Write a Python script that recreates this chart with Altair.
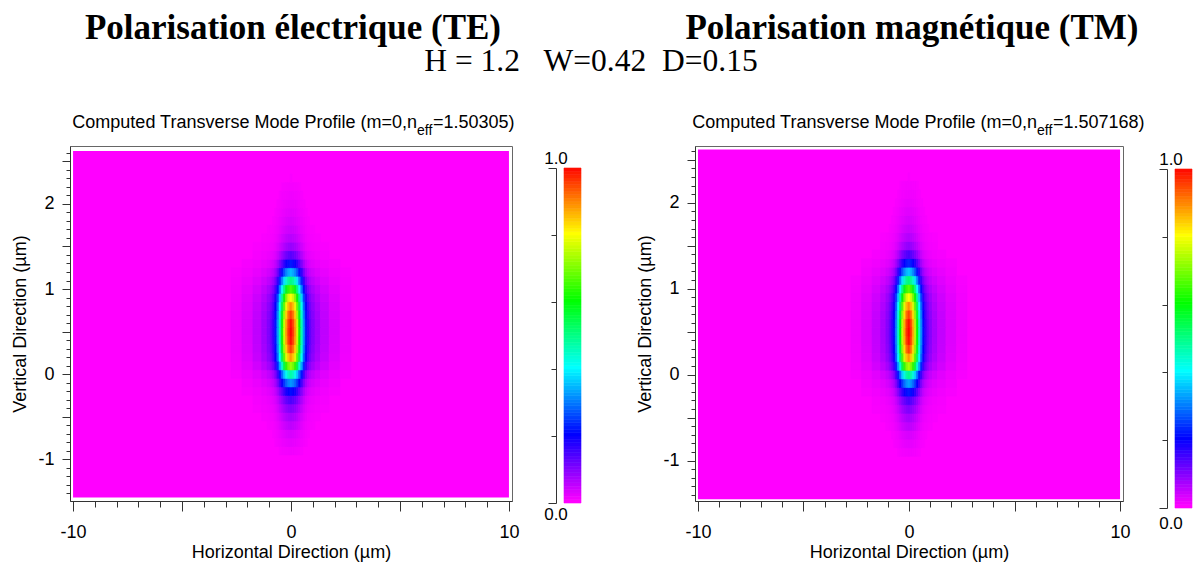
import altair as alt
import pandas as pd

# ---------------- texts ----------------
header_left = "Polarisation électrique (TE)"
header_right = "Polarisation magnétique (TM)"
header_params = "H = 1.2\u00a0\u00a0\u00a0W=0.42\u00a0\u00a0D=0.15"
sub_main = "Computed Transverse Mode Profile (m=0,n"
sub_index = "eff"
neff_te = "=1.50305)"
neff_tm = "=1.507168)"
x_title = "Horizontal Direction (µm)"
y_title = "Vertical Direction (µm)"

# ---------------- axes ----------------
x_ticks = [-10, -9, -8, -7, -6, -5, -4, -3, -2, -1, 0, 1, 2, 3, 4, 5, 6, 7, 8, 9, 10]
x_labelled = [-10, 0, 10]
y_ticks = [round(-1.4 + 0.1 * i, 1) for i in range(41)]
y_labelled = [-1, 0, 1, 2]
cb_ticks = [0.0, 0.1, 0.2, 0.3, 0.4, 0.5, 0.6, 0.7, 0.8, 0.9, 1.0]
cb_labels = ["0.0", "1.0"]

# ---------------- data extents (µm) ----------------
x_extent = [-10, 10]
te_y_extent = [-1.45, 2.62]
tm_y_extent = [-1.45, 2.62]
te_y_domain = [-1.49, 2.68]
tm_y_domain = [-1.47, 2.66]
x_domain = [-10.14, 10.14]

# ---------------- mode profiles ----------------
prof_y = [-1.0, -0.9, -0.8, -0.7, -0.6, -0.5, -0.4, -0.3, -0.2, -0.1, 0.0, 0.1, 0.2,
          0.3, 0.4, 0.5, 0.6, 0.7, 0.8, 0.9, 1.0, 1.1, 1.2, 1.3, 1.4, 1.5, 1.6, 1.7,
          1.8, 1.9, 2.0, 2.1, 2.2, 2.3, 2.4]
te_vertical = [0.0, 0.01, 0.02, 0.03, 0.05, 0.07, 0.10, 0.14, 0.21, 0.32, 0.47, 0.72, 0.88,
               0.95, 0.99, 1.00, 0.99, 0.95, 0.89, 0.80, 0.66, 0.50, 0.35, 0.22, 0.13, 0.08,
               0.055, 0.04, 0.03, 0.022, 0.016, 0.011, 0.007, 0.004, 0.0]
tm_vertical = [0.0, 0.01, 0.02, 0.03, 0.05, 0.07, 0.10, 0.14, 0.22, 0.33, 0.49, 0.73, 0.88,
               0.95, 0.99, 1.00, 0.99, 0.95, 0.89, 0.80, 0.67, 0.51, 0.36, 0.23, 0.14, 0.085,
               0.058, 0.042, 0.031, 0.023, 0.016, 0.011, 0.007, 0.004, 0.0]
prof_x = [0.0, 0.1, 0.2, 0.3, 0.4, 0.5, 0.6, 0.7, 0.8, 0.9, 1.0, 1.2, 1.5, 2.0, 2.5, 3.0]
te_horizontal = [1.00, 0.96, 0.88, 0.76, 0.61, 0.46, 0.32, 0.22, 0.16, 0.125, 0.10, 0.075,
                 0.05, 0.028, 0.012, 0.0]
tm_horizontal = [1.00, 0.96, 0.87, 0.75, 0.60, 0.45, 0.31, 0.21, 0.155, 0.12, 0.095, 0.07,
                 0.047, 0.026, 0.011, 0.0]

# ---------------- colour map ----------------
c_stops = [0.0, 0.2, 0.4, 0.6, 0.8, 1.0]
c_colors = ["#ff00ff", "#0000ff", "#00ffff", "#00ff00", "#ffff00", "#ff0000"]
cscale = alt.Scale(domain=c_stops, range=c_colors, interpolate="rgb", clamp=True)

SANS = "Liberation Sans"
SERIF = "Liberation Serif"


def cell_edges(c):
    out = []
    n = len(c)
    for i in range(n):
        lo = c[i] - (c[1] - c[0]) / 2 if i == 0 else (c[i - 1] + c[i]) / 2
        hi = c[i] + (c[-1] - c[-2]) / 2 if i == n - 1 else (c[i] + c[i + 1]) / 2
        out.append((lo, hi))
    return out


def build_cells(vert, horiz):
    xc = [-v for v in prof_x[::-1][:-1]] + prof_x
    hv = horiz[::-1][:-1] + horiz
    rows = []
    for (ylo, yhi), vv in zip(cell_edges(prof_y), vert):
        for (xlo, xhi), hh in zip(cell_edges(xc), hv):
            val = vv * hh
            if val >= 0.004:
                rows.append({"x0": xlo, "x1": xhi, "y0": ylo, "y1": yhi, "v": val})
    return pd.DataFrame(rows)


def text_layer(txt, x, y, size, font=SANS, weight="normal", align="left", baseline="alphabetic"):
    return alt.Chart(pd.DataFrame({"t": [txt]})).mark_text(
        font=font, fontSize=size, fontWeight=weight, align=align, baseline=baseline, color="#000"
    ).encode(text="t:N", x=alt.value(x), y=alt.value(y))


def heatmap(vert, horiz, y_ext, y_dom, width, height, neff, sub_x, headers):
    xsc = alt.Scale(domain=x_domain, nice=False, zero=False)
    ysc = alt.Scale(domain=y_dom, nice=False, zero=False)
    xaxis = alt.Axis(
        values=x_ticks, title=x_title, grid=False,
        tickSize={"condition": {"test": "abs(datum.value) % 5 === 0", "value": 10}, "value": 6},
        labelExpr="indexof(%s, datum.value) >= 0 ? toString(datum.value) : ''" % str(x_labelled),
        labelPadding=12, labelFlush=False, labelOverlap=False, titlePadding=2,
    )
    yaxis = alt.Axis(
        values=y_ticks, title=y_title, grid=False,
        tickSize={"condition": {"test": "abs(datum.value*2 - round(datum.value*2)) < 0.001",
                                "value": 8}, "value": 4},
        labelExpr="indexof(%s, round(datum.value*10)/10) >= 0 ? toString(round(datum.value)) : ''"
        % str(y_labelled),
        labelPadding=8, labelOverlap=False, titlePadding=8,
    )
    bg_df = pd.DataFrame({"x0": [x_extent[0]], "x1": [x_extent[1]],
                          "y0": [y_ext[0]], "y1": [y_ext[1]], "v": [0.0]})
    bg = alt.Chart(bg_df).mark_rect().encode(
        x=alt.X("x0:Q", scale=xsc, axis=xaxis), x2="x1",
        y=alt.Y("y0:Q", scale=ysc, axis=yaxis), y2="y1",
        color=alt.Color("v:Q", scale=cscale, legend=None),
    )
    cells = alt.Chart(build_cells(vert, horiz)).mark_rect(strokeWidth=0.6).encode(
        x=alt.X("x0:Q", scale=xsc, axis=xaxis), x2="x1",
        y=alt.Y("y0:Q", scale=ysc, axis=yaxis), y2="y1",
        color=alt.Color("v:Q", scale=cscale, legend=None),
        stroke=alt.Stroke("v:Q", scale=cscale, legend=None),
    )
    layers = [bg, cells,
              text_layer(sub_main, sub_x, -18, 18, align="right"),
              text_layer(sub_index, sub_x, -11, 14),
              text_layer(neff, sub_x + 16, -18, 18)]
    for (t, x, y, size, font, weight) in headers:
        layers.append(text_layer(t, x, y, size, font=font, weight=weight, align="center"))
    return alt.layer(*layers).properties(width=width, height=height)


def colorbar(width, height, top, label_x, zero_dy):
    lv = [i / 100 for i in range(100)]
    df = pd.DataFrame({"v": lv, "v2": [l + 0.01 for l in lv]})
    ysc = alt.Scale(domain=[0, 1], range=[height, top], nice=False, zero=False)
    yaxis = alt.Axis(
        values=cb_ticks, title=None, labels=False, grid=False, orient="left",
        tickSize={"condition": {"test": "abs(datum.value - 0.5) < 0.01 || datum.value < 0.01 || datum.value > 0.99",
                                "value": 8}, "value": 5},
    )
    bar = alt.Chart(df).mark_rect(strokeWidth=0.6).encode(
        y=alt.Y("v:Q", scale=ysc, axis=yaxis), y2="v2",
        x=alt.value(8), x2=alt.value(25),
        color=alt.Color("v:Q", scale=cscale, legend=None),
        stroke=alt.Stroke("v:Q", scale=cscale, legend=None),
    )
    top_lab = alt.Chart(pd.DataFrame({"v": [1.0], "t": [cb_labels[1]]})).mark_text(
        font=SANS, fontSize=17, align="center", baseline="alphabetic", dy=-4, color="#000"
    ).encode(y=alt.Y("v:Q", scale=ysc), x=alt.value(label_x), text="t:N")
    bot_lab = alt.Chart(pd.DataFrame({"v": [0.0], "t": [cb_labels[0]]})).mark_text(
        font=SANS, fontSize=17, align="center", baseline="top", dy=zero_dy, color="#000"
    ).encode(y=alt.Y("v:Q", scale=ysc), x=alt.value(label_x), text="t:N")
    return alt.layer(bar, top_lab, bot_lab).properties(
        width=width, height=height, view=alt.ViewBackground(stroke="transparent"))


left = heatmap(te_vertical, te_horizontal, te_y_extent, te_y_domain, 442, 355, neff_te, 347,
               [(header_left, 223, -107, 35, SERIF, "bold"),
                (header_params, 521, -75, 31.5, SERIF, "normal")])
left_cb = colorbar(95, 357, 22, 0, 4)
right = heatmap(tm_vertical, tm_horizontal, tm_y_extent, tm_y_domain, 428, 355, neff_tm, 342,
                [(header_right, 217, -107, 35, SERIF, "bold")])
right_cb = colorbar(25, 362, 23, 4, 8)

chart = alt.hconcat(left, left_cb, right, right_cb, spacing=44, bounds="flush").properties(
    padding={"left": 11, "top": 10, "right": 0, "bottom": 0}
).configure(background="white").configure_view(stroke="#666").configure_axis(
    labelFont=SANS, titleFont=SANS, labelFontSize=18, titleFontSize=18,
    titleFontWeight="normal", labelColor="#000", titleColor="#000",
    domainColor="#333", tickColor="#333",
)

chart.save("out.html", embed_options={"renderer": "svg", "actions": False})
